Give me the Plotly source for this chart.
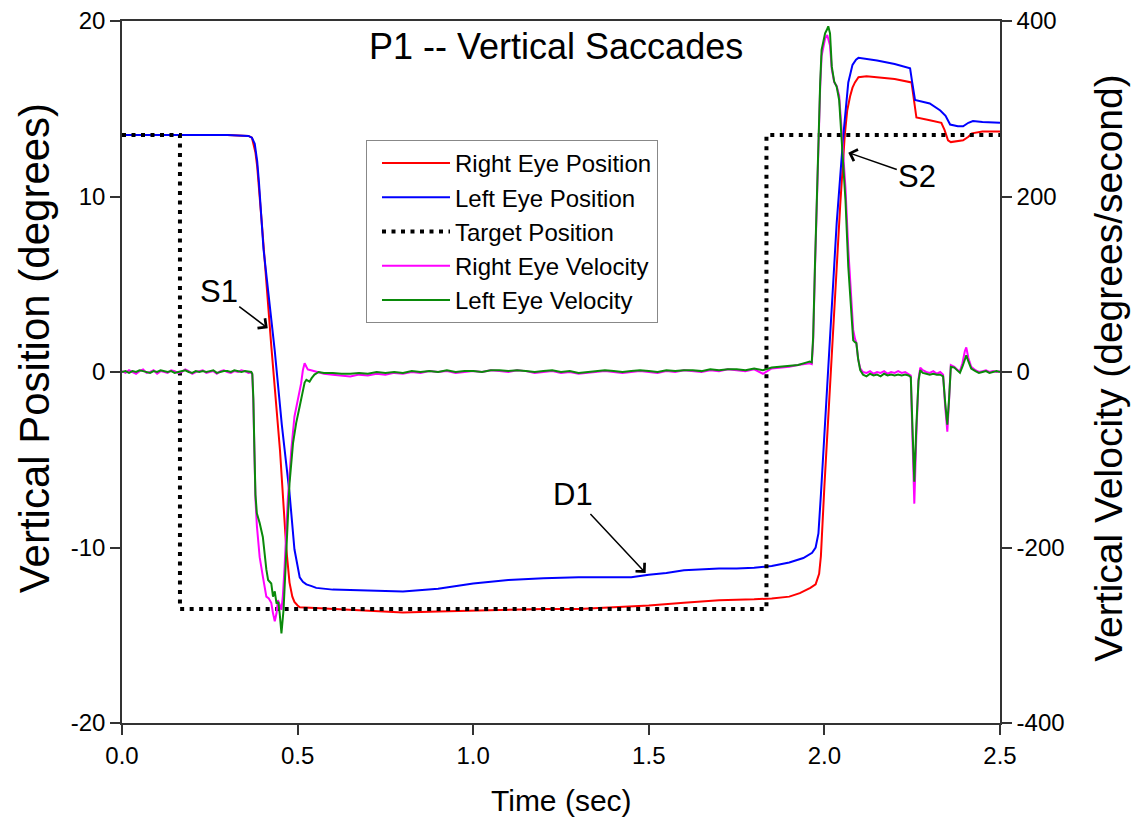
import numpy as np
import plotly.graph_objects as go

# ---------------- data ----------------
# Right eye position (degrees)
t_rpos = [0, 0.1, 0.2, 0.3, 0.36, 0.37, 0.375, 0.38, 0.385, 0.39, 0.40, 0.425, 0.45, 0.468, 0.477,
          0.485, 0.491, 0.5, 0.506, 0.55, 0.6, 0.7, 0.8, 0.9, 1.0, 1.1, 1.2, 1.3, 1.4, 1.5, 1.6, 1.7,
          1.8, 1.85, 1.9, 1.93, 1.96, 1.975, 1.985, 1.99, 2.0, 2.011, 2.02, 2.035, 2.045, 2.058, 2.065,
          2.073, 2.08, 2.087, 2.097, 2.12, 2.15, 2.2, 2.248, 2.255, 2.262, 2.3, 2.333, 2.342, 2.352,
          2.36, 2.395, 2.41, 2.42, 2.45, 2.5]
rpos = [13.5, 13.52, 13.5, 13.5, 13.45, 13.35, 13.0, 12.5, 11.7, 10.6, 8.0, 1.5, -4.5, -10.1, -12.0,
        -12.8, -13.1, -13.3, -13.4, -13.45, -13.5, -13.6, -13.7, -13.65, -13.6, -13.55, -13.5, -13.5,
        -13.4, -13.3, -13.15, -13.0, -12.95, -12.9, -12.8, -12.6, -12.3, -12.1, -11.5, -10.5, -6.5,
        -2.5, 1.0, 6.0, 9.5, 13.5, 14.9, 15.7, 16.2, 16.5, 16.8, 16.85, 16.8, 16.7, 16.5, 15.5, 14.5,
        14.35, 14.2, 13.8, 13.2, 13.1, 13.2, 13.4, 13.6, 13.7, 13.7]

# Left eye position (degrees)
t_lpos = [0, 0.1, 0.2, 0.3, 0.36, 0.37, 0.378, 0.385, 0.39, 0.403, 0.435, 0.455, 0.477, 0.491, 0.5,
          0.506, 0.515, 0.525, 0.54, 0.553, 0.6, 0.7, 0.8, 0.9, 1.0, 1.1, 1.2, 1.3, 1.4, 1.45, 1.5,
          1.55, 1.6, 1.65, 1.7, 1.75, 1.8, 1.85, 1.9, 1.94, 1.965, 1.975, 1.983, 1.99, 2.003, 2.02,
          2.035, 2.054, 2.062, 2.068, 2.08, 2.09, 2.097, 2.15, 2.2, 2.244, 2.25, 2.258, 2.3, 2.33,
          2.345, 2.358, 2.38, 2.395, 2.41, 2.423, 2.45, 2.5]
lpos = [13.5, 13.52, 13.5, 13.5, 13.45, 13.35, 13.0, 12.0, 10.8, 7.0, 1.2, -3.0, -6.9, -10.1, -11.1,
        -11.7, -11.95, -12.1, -12.2, -12.3, -12.4, -12.45, -12.5, -12.35, -12.05, -11.85, -11.75,
        -11.7, -11.7, -11.7, -11.55, -11.45, -11.3, -11.25, -11.2, -11.2, -11.15, -11.05, -10.85,
        -10.6, -10.3, -10.0, -9.2, -7.0, -2.5, 3.5, 8.5, 13.5, 15.5, 16.5, 17.5, 17.8, 17.9, 17.75,
        17.55, 17.3, 16.5, 15.5, 15.3, 14.9, 14.6, 14.1, 14.0, 14.0, 14.2, 14.3, 14.25, 14.2]

# Target position (degrees)
t_target = [0, 0.165, 0.165, 1.835, 1.835, 2.5]
target = [13.5, 13.5, -13.5, -13.5, 13.5, 13.5]

# Velocities (degrees/second) -- pre-saccade baseline, sampled every 10 ms
vel_t_pre = np.round(np.arange(0, 0.3651, 0.01), 3)
rvel_pre = [1, -1, 2, 0, -2, 1, 3, -1, 0, 2, -2, 1, 0, -1, 2, 1, -1, 0, 3, 1, -2, 0, 1, 2, -1, 0, 1,
            -2, 1, 2, 0, -1, 1, 0, 2, 1, -1]
lvel_pre = [0, 1, -1, 1, 0, 2, 1, 0, -1, 1, 0, 2, 1, 0, 1, -1, 0, 1, 2, 0, -1, 1, 0, 1, 0, 1, 2,
            -1, 0, 1, 1, 0, 2, 1, 0, 1, 0]

# first saccade (S1)
rvel_s1_t = [0.368, 0.371, 0.374, 0.377, 0.380, 0.384, 0.392, 0.401, 0.411, 0.418, 0.425, 0.430,
             0.435, 0.440, 0.444, 0.449, 0.454, 0.458, 0.463, 0.472, 0.482, 0.491, 0.501, 0.510,
             0.515, 0.520, 0.525, 0.529, 0.538, 0.548, 0.56]
rvel_s1 = [0, -3, -35, -95, -145, -175, -211, -233, -256, -258, -263, -275, -284, -275, -260, -265,
           -271, -255, -222, -146, -89, -51, -32, -13, 2, 10, 6, 3, 2, 1, 0]
lvel_s1_t = [0.368, 0.371, 0.374, 0.377, 0.380, 0.384, 0.392, 0.401, 0.406, 0.411, 0.416, 0.425,
             0.430, 0.435, 0.440, 0.445, 0.449, 0.454, 0.460, 0.468, 0.477, 0.487, 0.496, 0.506,
             0.515, 0.520, 0.525, 0.534, 0.540, 0.548, 0.56]
lvel_s1 = [0, -2, -30, -89, -140, -161, -172, -188, -211, -225, -237, -241, -256, -250, -264, -262,
           -275, -298, -271, -203, -127, -81, -58, -39, -20, -12, -9, -11, -7, -3, 0]

# fixation, sampled every 25 ms
vel_t_fix = np.round(np.arange(0.575, 1.9501, 0.025), 3)
rvel_fix = [-2, -3, -4, -5, -3, -4, -2, -3, -1, -2, 0, -1, 1, 0, 1, -1, 0, 1, 0, 2, 1, 0, 2, 1, -1,
            0, 1, -1, 0, -2, -1, 0, 1, 0, -1, 0, 1, 0, -1, 1, 0, 2, 1, 0, 2, 1, 3, 2, 1, 3, -2, 4,
            5, 6, 8, 10]
lvel_fix = [-1, -1, -2, -2, -1, -2, 0, -1, 0, -1, 1, 0, 1, 0, 2, 0, 1, 1, 0, 2, 2, 1, 2, 1, 0, 1,
            2, 0, 1, -1, 0, 1, 2, 1, 0, 1, 2, 1, 0, 2, 1, 2, 2, 1, 3, 2, 3, 3, 2, 4, 2, 5, 6, 7, 8,
            11]

# second saccade (S2)
rvel_s2_t = [1.958, 1.964, 1.968, 1.973, 1.978, 1.983, 1.988, 1.992, 1.997, 2.002, 2.008, 2.012,
             2.016, 2.021, 2.028, 2.035, 2.042, 2.048, 2.054, 2.060, 2.068, 2.077, 2.082, 2.087,
             2.091, 2.096, 2.102, 2.11]
rvel_s2 = [10, 9, 35, 115, 195, 268, 325, 360, 372, 380, 384, 378, 372, 345, 330, 326, 315, 282,
           248, 210, 140, 78, 48, 38, 33, 15, 4, 0]
lvel_s2_t = [1.958, 1.964, 1.968, 1.973, 1.978, 1.983, 1.988, 1.992, 1.997, 2.002, 2.007, 2.011,
             2.016, 2.021, 2.028, 2.035, 2.042, 2.048, 2.054, 2.060, 2.068, 2.077, 2.082, 2.087,
             2.091, 2.096, 2.102, 2.11]
lvel_s2 = [12, 11, 40, 120, 200, 272, 330, 367, 378, 386, 390, 394, 386, 348, 331, 325, 310, 272,
           235, 196, 120, 63, 36, 34, 33, 15, 2, -3]

# after S2 (corrective saccades)
vel_t_post = [2.12, 2.13, 2.14, 2.15, 2.16, 2.17, 2.18, 2.19, 2.2, 2.21, 2.22, 2.23, 2.24, 2.246,
              2.25, 2.256, 2.262, 2.268, 2.273, 2.28, 2.29, 2.3, 2.31, 2.32, 2.33, 2.338, 2.344,
              2.35, 2.355, 2.36, 2.37, 2.38, 2.386, 2.393, 2.4, 2.404, 2.41, 2.418, 2.43, 2.44,
              2.45, 2.46, 2.47, 2.48, 2.49, 2.5]
rvel_post = [-1, 1, -2, 0, -1, 1, -2, 0, -1, 1, -1, 0, -2, -4, -65, -150, -70, -8, 5, 2, 0, -1, 1,
             -2, 0, -3, -40, -68, -32, 8, 6, 2, 1, 10, 24, 28, 16, 6, 2, 0, 1, 2, 0, 1, 0, 1]
lvel_post = [-5, -2, -4, -3, -5, -2, -4, -3, -4, -3, -4, -3, -4, -6, -60, -125, -60, -10, 2, -1,
             -2, -3, -2, -3, -3, -5, -35, -60, -30, 6, 5, 1, -1, 6, 15, 19, 12, 4, 1, -1, 0, 1,
             -1, 0, 1, 0]

x_ticks = [0, 0.5, 1.0, 1.5, 2.0, 2.5]
x_ticktext = ["0.0", "0.5", "1.0", "1.5", "2.0", "2.5"]
yl_ticks = [-20, -10, 0, 10, 20]
yl_ticktext = ["-20", "-10", "0", "10", "20"]
yr_ticks = [-400, -200, 0, 200, 400]
yr_ticktext = ["-400", "-200", "0", "200", "400"]

# ---------------- assemble velocity series ----------------
rvel_t = list(vel_t_pre) + rvel_s1_t + list(vel_t_fix) + rvel_s2_t + vel_t_post
rvel = rvel_pre + rvel_s1 + rvel_fix + rvel_s2 + rvel_post
lvel_t = list(vel_t_pre) + lvel_s1_t + list(vel_t_fix) + lvel_s2_t + vel_t_post
lvel = lvel_pre + lvel_s1 + lvel_fix + lvel_s2 + lvel_post

FONT = "Liberation Sans, Arial, Helvetica, sans-serif"
AX = "#333333"

fig = go.Figure()
fig.add_trace(go.Scatter(x=t_rpos, y=rpos, mode="lines", name="Right Eye Position",
                         line=dict(color="#ff0000", width=2), legendgroup="a"))
fig.add_trace(go.Scatter(x=t_lpos, y=lpos, mode="lines", name="Left Eye Position",
                         line=dict(color="#0000ff", width=2), legendgroup="b"))
fig.add_trace(go.Scatter(x=t_target, y=target, mode="lines", name="Target Position",
                         line=dict(color="black", width=4, dash="4px,5.5px"), legendgroup="c"))
fig.add_trace(go.Scatter(x=rvel_t, y=rvel, mode="lines", name="Right Eye Velocity", yaxis="y2",
                         line=dict(color="#ff00ff", width=2), legendgroup="d"))
fig.add_trace(go.Scatter(x=lvel_t, y=lvel, mode="lines", name="Left Eye Velocity", yaxis="y2",
                         line=dict(color="#0a8a0a", width=2), legendgroup="e"))

axis_common = dict(ticks="outside", ticklen=10, tickwidth=1.5, tickcolor=AX, showline=True,
                   linecolor=AX, linewidth=1.5, showgrid=False, zeroline=False,
                   tickfont=dict(family=FONT, size=24, color="black"))

fig.update_layout(
    width=1133, height=824, autosize=False,
    margin=dict(l=122, r=133, t=21, b=101, autoexpand=False),
    paper_bgcolor="white", plot_bgcolor="white",
    xaxis=dict(range=[0, 2.5], tickvals=x_ticks, ticktext=x_ticktext, mirror=True, **axis_common),
    yaxis=dict(range=[-20, 20], tickvals=yl_ticks, ticktext=yl_ticktext, **axis_common),
    yaxis2=dict(range=[-400, 400], tickvals=yr_ticks, ticktext=yr_ticktext, overlaying="y",
                side="right", **axis_common),
    legend=dict(x=0.2779, y=0.8305, xanchor="left", yanchor="top", bordercolor="#888888",
                borderwidth=1, bgcolor="white", itemwidth=68, indentation=10, tracegroupgap=0,
                font=dict(family=FONT, size=24, color="black")),
    showlegend=True,
)

ann_font = dict(family=FONT, size=31, color="black")
fig.add_annotation(x=0.494, y=0.963, xref="paper", yref="paper", text="P1 -- Vertical Saccades",
                   xanchor="center", yanchor="middle", showarrow=False,
                   font=dict(family=FONT, size=36, color="black"))
fig.add_annotation(x=-0.1002, y=0.534, xref="paper", yref="paper", text="Vertical Position (degrees)",
                   xanchor="center", yanchor="middle", textangle=-90, showarrow=False,
                   font=dict(family=FONT, size=42, color="black"))
fig.add_annotation(x=1.1241, y=0.506, xref="paper", yref="paper",
                   text="Vertical Velocity (degrees/second)", xanchor="center", yanchor="middle",
                   textangle=-90, showarrow=False, font=dict(family=FONT, size=39, color="black"))
fig.add_annotation(x=0.5, y=-0.1097, xref="paper", yref="paper", text="Time (sec)",
                   xanchor="center", yanchor="middle", showarrow=False,
                   font=dict(family=FONT, size=30, color="black"))

arrow_kw = dict(showarrow=True, arrowhead=4, arrowsize=1.6, arrowwidth=1.5, arrowcolor="black",
                axref="pixel", ayref="pixel", font=ann_font)
fig.add_annotation(x=0.415, y=2.5, xref="x", yref="y", text="S1", ax=-49, ay=-37, **arrow_kw)
fig.add_annotation(x=2.068, y=12.5, xref="x", yref="y", text="S2", ax=69, ay=24, **arrow_kw)
fig.add_annotation(x=1.491, y=-11.45, xref="x", yref="y", text="D1", ax=-73, ay=-78, **arrow_kw)

fig.write_html("out.html")
